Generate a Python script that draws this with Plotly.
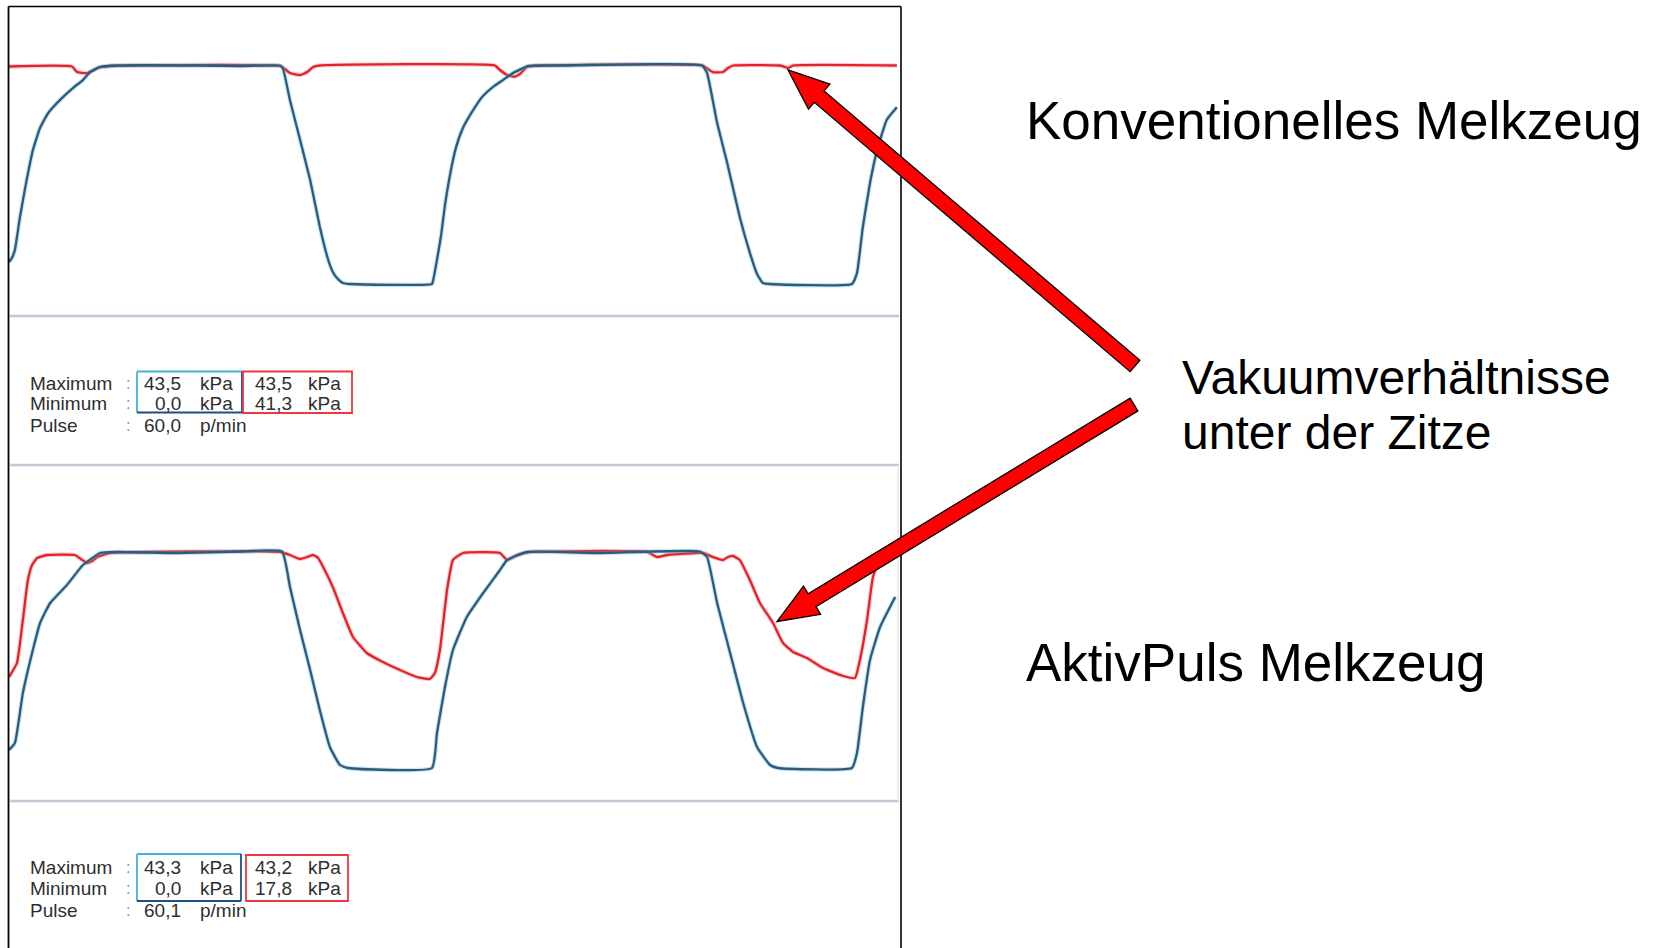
import plotly.graph_objects as go

W, H = 1661, 948

# ---- Konventionelles Melkzeug (time in s, vacuum in kPa) ----
conv_chamber_t = [0.000, 0.007, 0.014, 0.026, 0.042, 0.057, 0.074, 0.093, 0.121, 0.152,
                  0.176, 0.193, 0.217, 0.257, 0.455, 0.550, 0.645, 0.652, 0.669, 0.693,
                  0.717, 0.740, 0.760, 0.771, 0.781, 0.795, 0.812, 1.007, 1.010, 1.019,
                  1.029, 1.038, 1.050, 1.064, 1.081, 1.102, 1.126, 1.152, 1.176, 1.200,
                  1.236, 1.312, 1.650, 1.662, 1.686, 1.710, 1.740, 1.764, 1.781, 1.795,
                  1.812, 2.007, 2.019, 2.033, 2.050, 2.067, 2.090, 2.114]
conv_chamber_kpa = [4.4, 5.2, 6.8, 13.3, 20.7, 26.7, 31.1, 34.0, 36.6, 39.0,
                    40.6, 42.2, 43.2, 43.5, 43.5, 43.4, 43.5, 43.0, 36.6, 28.7,
                    20.7, 11.4, 4.8, 2.4, 1.2, 0.2, 0.0, 0.0, 0.8, 4.8,
                    9.8, 15.7, 21.7, 27.1, 31.1, 34.2, 37.2, 39.2, 40.6, 42.0,
                    43.4, 43.5, 43.5, 42.0, 32.1, 24.1, 13.3, 6.2, 2.0, 0.2,
                    0.0, 0.0, 2.2, 11.4, 20.1, 26.7, 32.7, 35.2]
conv_teat_t = [0.000, 0.150, 0.162, 0.186, 0.198, 0.210, 0.240, 0.645, 0.657, 0.669,
               0.693, 0.710, 0.724, 0.740, 1.157, 1.169, 1.186, 1.205, 1.219, 1.233,
               1.264, 1.652, 1.664, 1.676, 1.700, 1.712, 1.724, 1.836, 1.848, 1.855,
               1.867, 2.114]
conv_teat_kpa = [43.3, 43.3, 42.2, 42.0, 42.4, 43.0, 43.4, 43.4, 42.8, 42.0,
                 41.6, 42.2, 43.2, 43.5, 43.5, 42.6, 41.6, 41.3, 42.0, 43.2,
                 43.5, 43.5, 42.8, 42.2, 42.2, 43.0, 43.5, 43.5, 43.2, 43.0,
                 43.5, 43.5]

# ---- AktivPuls Melkzeug ----
aktiv_chamber_t = [0.000, 0.014, 0.033, 0.055, 0.074, 0.098, 0.138, 0.176, 0.217, 0.257,
                   0.400, 0.550, 0.650, 0.669, 0.693, 0.717, 0.740, 0.764, 0.788, 0.807,
                   1.007, 1.019, 1.038, 1.057, 1.090, 1.129, 1.169, 1.186, 1.233, 1.400,
                   1.645, 1.662, 1.686, 1.717, 1.748, 1.781, 1.812, 1.831, 2.007, 2.019,
                   2.033, 2.050, 2.074, 2.110]
aktiv_chamber_kpa = [3.6, 5.0, 15.0, 23.0, 29.0, 33.0, 36.6, 40.6, 43.0, 43.2,
                     43.0, 43.3, 43.3, 36.2, 27.6, 19.6, 11.6, 4.2, 0.6, 0.0,
                     0.0, 7.0, 16.2, 23.6, 30.2, 35.0, 39.6, 41.6, 43.2, 43.0,
                     43.3, 42.2, 33.0, 23.0, 13.0, 4.2, 0.6, 0.0, 0.0, 3.0,
                     12.2, 21.6, 28.2, 34.2]
aktiv_teat_t = [0.000, 0.019, 0.033, 0.045, 0.055, 0.067, 0.090, 0.157, 0.171, 0.186,
                0.198, 0.210, 0.240, 0.645, 0.669, 0.693, 0.710, 0.724, 0.736, 0.748,
                0.771, 0.795, 0.819, 0.852, 0.890, 0.931, 0.971, 1.002, 1.014, 1.026,
                1.043, 1.057, 1.081, 1.169, 1.186, 1.210, 1.240, 1.519, 1.543, 1.567,
                1.652, 1.676, 1.700, 1.712, 1.724, 1.740, 1.764, 1.788, 1.819, 1.843,
                1.867, 1.900, 1.938, 1.979, 2.014, 2.026, 2.043, 2.057, 2.074, 2.093,
                2.114]
aktiv_teat_kpa = [18.2, 21.0, 29.6, 37.6, 40.6, 42.0, 42.6, 42.6, 41.8, 41.0,
                  41.4, 42.2, 43.0, 43.2, 42.6, 41.8, 42.2, 42.6, 42.0, 40.2,
                  36.2, 31.0, 26.2, 23.0, 21.2, 19.6, 18.2, 17.8, 19.0, 23.6,
                  35.6, 41.6, 43.0, 43.0, 41.6, 42.6, 43.2, 43.2, 42.2, 42.6,
                  43.0, 42.2, 41.6, 42.2, 42.4, 41.6, 37.6, 33.0, 29.0, 25.0,
                  23.2, 22.0, 20.0, 18.6, 18.0, 21.6, 29.6, 38.2, 42.0, 43.0,
                  43.0]

# ---- measurement summary ----
row_labels = ["Maximum", "Minimum", "Pulse"]
conv_chamber_stats = [43.5, 0.0]
conv_teat_stats = [43.5, 41.3]
conv_rate = 60.0
aktiv_chamber_stats = [43.3, 0.0]
aktiv_teat_stats = [43.2, 17.8]
aktiv_rate = 60.1

caption_top = "Konventionelles Melkzeug"
caption_mid = ["Vakuumverhältnisse", "unter der Zitze"]
caption_bottom = "AktivPuls Melkzeug"

# ---------------------------------------------------------------
FONT = "Liberation Sans, Arial, sans-serif"
BLUE = "#2d5b7c"
BLUE_HALO = "#5fb6df"
RED = "#e2232a"
TEXT_GREY = "#2e2e2e"

PANEL_L, PANEL_R = 9, 901          # px, plot strip
PX_PER_S = 420.0


def px(x):
    return x / W


def py(y):
    return 1 - y / H


def y_axis(zero_px, px_per_kpa, top_px, bot_px):
    return dict(domain=[py(bot_px), py(top_px)],
                range=[(zero_px - bot_px) / px_per_kpa, (zero_px - top_px) / px_per_kpa],
                visible=False, showgrid=False, zeroline=False, fixedrange=True)


t_span = (PANEL_R - PANEL_L) / PX_PER_S
x_common = dict(domain=[px(PANEL_L), px(PANEL_R)], range=[0, t_span],
                visible=False, showgrid=False, zeroline=False, fixedrange=True)

fig = go.Figure()


def add_pair(t_red, v_red, t_blue, v_blue, xa, ya):
    fig.add_trace(go.Scatter(x=t_red, y=v_red, mode="lines", xaxis=xa, yaxis=ya,
                             line=dict(color="#f07a7a", width=4.5, shape="spline", smoothing=0.4),
                             opacity=0.35, hoverinfo="skip", showlegend=False))
    fig.add_trace(go.Scatter(x=t_red, y=v_red, mode="lines", xaxis=xa, yaxis=ya,
                             line=dict(color=RED, width=2.3, shape="spline", smoothing=0.4),
                             showlegend=False))
    fig.add_trace(go.Scatter(x=t_blue, y=v_blue, mode="lines", xaxis=xa, yaxis=ya,
                             line=dict(color=BLUE_HALO, width=4.5, shape="spline", smoothing=0.4),
                             opacity=0.35, hoverinfo="skip", showlegend=False))
    fig.add_trace(go.Scatter(x=t_blue, y=v_blue, mode="lines", xaxis=xa, yaxis=ya,
                             line=dict(color=BLUE, width=2.3, shape="spline", smoothing=0.4),
                             showlegend=False))


add_pair(conv_teat_t, conv_teat_kpa, conv_chamber_t, conv_chamber_kpa, "x", "y")
add_pair(aktiv_teat_t, aktiv_teat_kpa, aktiv_chamber_t, aktiv_chamber_kpa, "x2", "y2")

shapes = []


def line(x0, y0, x1, y1, color, width):
    shapes.append(dict(type="line", xref="paper", yref="paper",
                       x0=px(x0), y0=py(y0), x1=px(x1), y1=py(y1),
                       line=dict(color=color, width=width), layer="above"))


# printout frame and separators
line(8.5, 6.5, 901, 6.5, "#000000", 1.6)
line(8.5, 6.5, 8.5, H, "#000000", 1.8)
line(901, 6.5, 901, H, "#000000", 1.6)
for sep_y in (316, 465, 801):
    line(10, sep_y, 899, sep_y, "#c9c3d6", 2.4)
line(898, 465, 898, 801, "#e2e0ea", 1.2)

annotations = []


def text(x, y, s, size, color="#000000", anchor="left"):
    annotations.append(dict(xref="paper", yref="paper", x=px(x), y=py(y), text=s,
                            showarrow=False, xanchor=anchor, yanchor="middle",
                            font=dict(family=FONT, size=size, color=color)))


def fmt(v):
    return f"{v:.1f}".replace(".", ",")


def info_block(rows_y, chamber, teat, rate, blue_box, red_box):
    for lbl, yy in zip(row_labels, rows_y):
        text(28, yy, lbl, 19, TEXT_GREY)
        text(128, yy, ":", 16, "#8a8a8a", "center")
    for i in range(2):
        text(183, rows_y[i], fmt(chamber[i]), 19, TEXT_GREY, "right")
        text(198, rows_y[i], "kPa", 19, TEXT_GREY)
        text(294, rows_y[i], fmt(teat[i]), 19, TEXT_GREY, "right")
        text(306, rows_y[i], "kPa", 19, TEXT_GREY)
    text(183, rows_y[2], fmt(rate), 19, TEXT_GREY, "right")
    text(198, rows_y[2], "p/min", 19, TEXT_GREY)
    bx0, by0, bx1, by1 = blue_box
    line(bx0, by0, bx1, by0, "#4aaedc", 1.8)
    line(bx0, by0, bx0, by1, "#4aaedc", 1.8)
    line(bx0, by1, bx1, by1, "#1f4f86", 1.8)
    line(bx1, by0, bx1, by1, "#1f4f86", 1.8)
    rx0, ry0, rx1, ry1 = red_box
    shapes.append(dict(type="rect", xref="paper", yref="paper",
                       x0=px(rx0), y0=py(ry1), x1=px(rx1), y1=py(ry0),
                       line=dict(color="#ec3840", width=1.8), layer="above"))


info_block([383, 403.5, 426], conv_chamber_stats, conv_teat_stats, conv_rate,
           (137, 371.5, 242, 412.5), (243, 371.5, 352, 413))
info_block([867, 888, 910], aktiv_chamber_stats, aktiv_teat_stats, aktiv_rate,
           (137, 854, 241, 901), (246, 855, 348, 901))

# captions
text(1024, 121, caption_top, 53)
text(1180, 377, caption_mid[0], 48)
text(1180, 432, caption_mid[1], 48)
text(1024, 662, caption_bottom, 53)


# pointing arrows
def arrow(tip, tail, shaft_w=15, head_w=33, head_len=41):
    tx, ty = tip
    ex, ey = tail
    dx, dy = ex - tx, ey - ty
    n = (dx * dx + dy * dy) ** 0.5
    ux, uy = dx / n, dy / n
    nx, ny = -uy, ux
    bx, by = tx + ux * head_len, ty + uy * head_len
    pts = [(tx, ty),
           (bx + nx * head_w / 2, by + ny * head_w / 2),
           (bx + nx * shaft_w / 2, by + ny * shaft_w / 2),
           (ex + nx * shaft_w / 2, ey + ny * shaft_w / 2),
           (ex - nx * shaft_w / 2, ey - ny * shaft_w / 2),
           (bx - nx * shaft_w / 2, by - ny * shaft_w / 2),
           (bx - nx * head_w / 2, by - ny * head_w / 2)]
    path = "M " + " L ".join(f"{px(x):.6f},{py(y):.6f}" for x, y in pts) + " Z"
    shapes.append(dict(type="path", xref="paper", yref="paper", path=path,
                       fillcolor="#ff0000", line=dict(color="#000000", width=1.3),
                       layer="above"))


arrow((788, 70), (1135, 366))
arrow((777, 621.5), (1134, 404.5))

fig.update_layout(
    width=W, height=H, autosize=False,
    margin=dict(l=0, r=0, t=0, b=0),
    paper_bgcolor="#ffffff", plot_bgcolor="rgba(0,0,0,0)",
    xaxis=dict(x_common, anchor="y"),
    yaxis=dict(y_axis(284, 218.5 / 43.5, 25, 305), anchor="x"),
    xaxis2=dict(x_common, anchor="y2"),
    yaxis2=dict(y_axis(768, 216.5 / 43.3, 480, 790), anchor="x2"),
    shapes=shapes, annotations=annotations,
    showlegend=False,
)

fig.write_html("out.html", config={"displayModeBar": False, "staticPlot": True},
               post_script="document.body.style.margin='0';document.body.style.padding='0';")
